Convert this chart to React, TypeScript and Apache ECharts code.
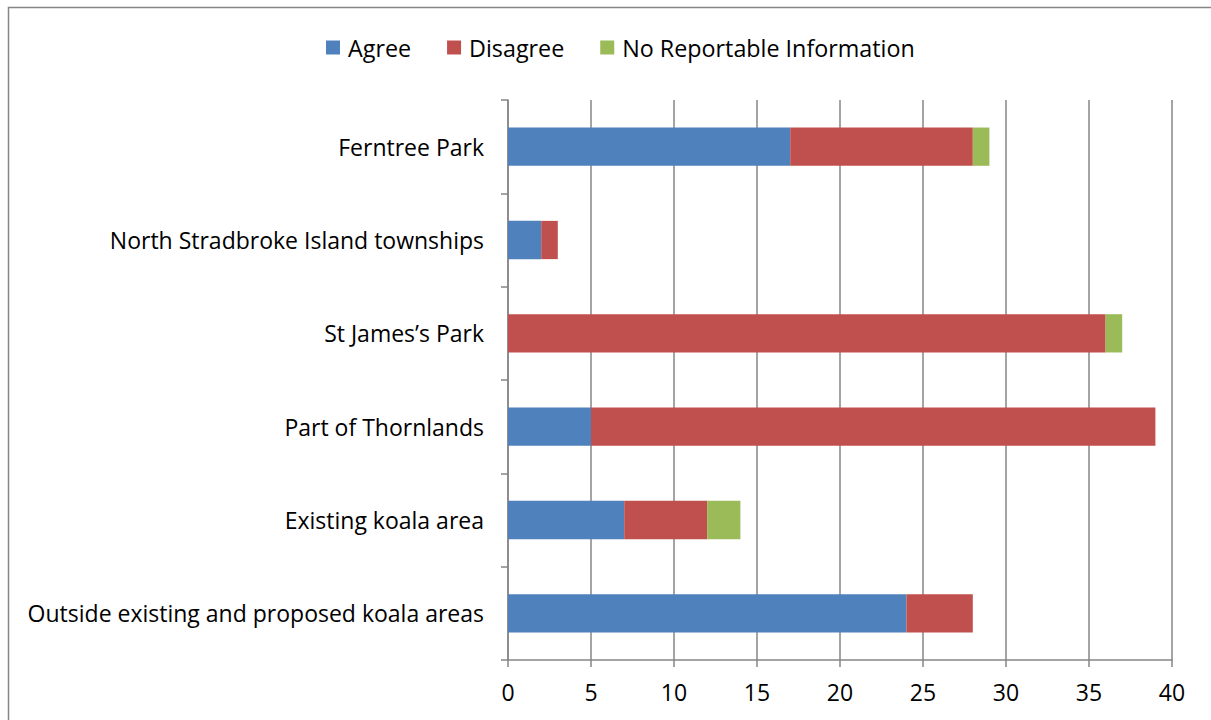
import React, { useEffect, useRef } from "react";
import * as echarts from "echarts";

const categories = [
  "Outside existing and proposed koala areas",
  "Existing koala area",
  "Part of Thornlands",
  "St James\u2019s Park",
  "North Stradbroke Island townships",
  "Ferntree Park",
];
const agree = [24, 7, 5, 0, 2, 17];
const disagree = [4, 5, 34, 36, 1, 11];
const noInfo = [0, 2, 0, 1, 0, 1];
const xTicks = { min: 0, max: 40, interval: 5 };

const FONT = "'Open Sans', 'Noto Sans', sans-serif";
const GRAY = "#868686";

export default function App() {
  const ref = useRef<HTMLDivElement>(null);
  useEffect(() => {
    if (!ref.current) return;
    const chart = echarts.init(ref.current, null, { renderer: "svg" });
    const mk = (name: string, data: number[], color: string) => ({
      name,
      type: "bar",
      stack: "total",
      data,
      barCategoryGap: "59%",
      itemStyle: { color },
    });
    chart.setOption({
      animation: false,
      backgroundColor: "#ffffff",
      textStyle: { fontFamily: FONT },
      graphic: [
        {
          type: "rect",
          shape: { x: 8.5, y: 7.5, width: 1300, height: 800 },
          style: { fill: "none", stroke: GRAY, lineWidth: 1.5 },
          silent: true,
        },
      ],
      legend: {
        top: 31,
        left: 321,
        icon: "rect",
        itemWidth: 14,
        itemHeight: 14,
        itemGap: 36,
        textStyle: { fontSize: 23.3, color: "#000", fontFamily: FONT, padding: [0, 0, 0, 3] },
        data: ["Agree", "Disagree", "No Reportable Information"],
      },
      grid: { left: 508, right: 39, top: 100, bottom: 60 },
      xAxis: {
        type: "value",
        min: xTicks.min,
        max: xTicks.max,
        interval: xTicks.interval,
        axisLine: { show: true, lineStyle: { color: GRAY, width: 1.5 } },
        axisTick: { show: true, length: 7, lineStyle: { color: GRAY, width: 1.5 } },
        splitLine: { show: true, lineStyle: { color: GRAY, width: 1.5 } },
        axisLabel: { fontSize: 23, color: "#000", margin: 20, fontFamily: FONT },
      },
      yAxis: {
        type: "category",
        data: categories,
        axisLine: { show: true, lineStyle: { color: GRAY, width: 1.5 } },
        axisTick: { show: true, length: 7, lineStyle: { color: GRAY, width: 1.5 } },
        axisLabel: { fontSize: 23, color: "#000", margin: 24, fontFamily: FONT },
      },
      series: [
        mk("Agree", agree, "#4F81BD"),
        mk("Disagree", disagree, "#C0504D"),
        mk("No Reportable Information", noInfo, "#9BBB59"),
      ],
    });
    return () => chart.dispose();
  }, []);
  return (
    <div
      ref={ref}
      style={{ position: "fixed", left: 0, top: 0, width: 1211, height: 720 }}
    />
  );
}
